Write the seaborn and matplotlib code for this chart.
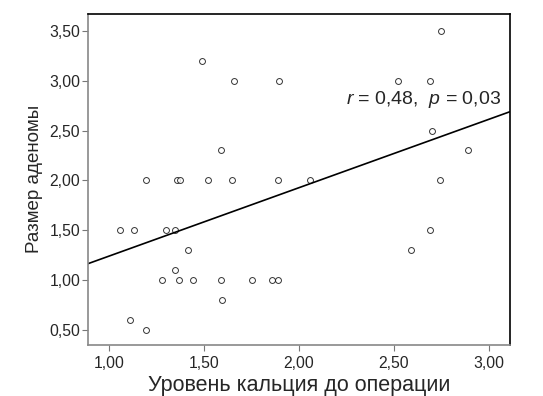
import numpy as np
import pandas as pd
import seaborn as sns
import matplotlib.pyplot as plt
from matplotlib.ticker import FuncFormatter

calcium = [2.75, 2.52, 2.69, 2.70, 2.89, 2.74, 2.69, 2.59,
           1.49, 1.66, 1.895, 1.59,
           1.195, 1.36, 1.375, 1.52, 1.645, 1.89, 2.06,
           1.056, 1.13, 1.30, 1.345,
           1.415, 1.345,
           1.28, 1.37, 1.44, 1.59, 1.755, 1.86, 1.89,
           1.595, 1.11, 1.195]
adenoma = [3.5, 3.0, 3.0, 2.5, 2.3, 2.0, 1.5, 1.3,
           3.2, 3.0, 3.0, 2.3,
           2.0, 2.0, 2.0, 2.0, 2.0, 2.0, 2.0,
           1.5, 1.5, 1.5, 1.5,
           1.3, 1.1,
           1.0, 1.0, 1.0, 1.0, 1.0, 1.0, 1.0,
           0.8, 0.6, 0.5]

df = pd.DataFrame({"ca": calcium, "size": adenoma})

sns.set_style("ticks")
plt.rcParams['font.family'] = ['Liberation Sans', 'DejaVu Sans']
plt.rcParams['mathtext.fontset'] = 'custom'
plt.rcParams['mathtext.it'] = 'Liberation Sans:italic'
plt.rcParams['mathtext.rm'] = 'Liberation Sans'

fig = plt.figure(figsize=(5.43, 3.96), dpi=100)
ax = fig.add_axes([0.162, 0.129, 0.777, 0.836])
ax.set_xlim(0.889, 3.11)
ax.set_ylim(0.35, 3.67)

sns.regplot(x="ca", y="size", data=df, ax=ax, ci=None, truncate=False,
            scatter_kws=dict(s=18, facecolors="white", edgecolors="black", linewidths=0.7),
            line_kws=dict(color="black", lw=1.2))

ax.set_xlim(0.889, 3.11)
ax.set_ylim(0.35, 3.67)
ax.set_xticks([1.0, 1.5, 2.0, 2.5, 3.0])
ax.set_yticks([0.5, 1.0, 1.5, 2.0, 2.5, 3.0, 3.5])
fmt = FuncFormatter(lambda v, pos: f"{v:.2f}".replace(".", ","))
ax.xaxis.set_major_formatter(fmt)
ax.yaxis.set_major_formatter(fmt)
ax.tick_params(labelsize=11.3, length=4, width=0.8, color="#777777")
ax.tick_params(axis="y", pad=1.5)
ax.tick_params(axis="x", pad=4)
for name, sp in ax.spines.items():
    sp.set_visible(True)
    sp.set_linewidth(1.2)
    sp.set_color("#888888" if name in ("left", "bottom") else "black")

ax.set_xlabel("Уровень кальция до операции", fontsize=15.5, labelpad=3)
ax.set_ylabel("Размер аденомы", fontsize=13.5, labelpad=4.5)

ax.text(2.245, 2.81, r"$\it{r}$ = 0,48,  $\it{p}$ = 0,03", fontsize=14, va="center")

fig.savefig("out.png", dpi=100)
